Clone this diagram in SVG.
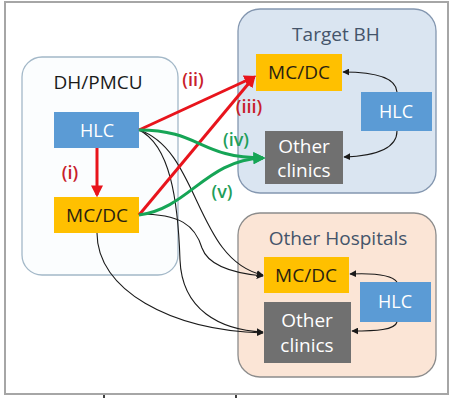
<svg xmlns="http://www.w3.org/2000/svg" width="450" height="398" viewBox="0 0 450 398">
  <style>
    text { font-family: "Open Sans", "Liberation Sans", sans-serif; text-anchor: middle; }
    .title { font-size: 19px; }
    .hlc rect { fill: #5b9bd5; }
    .hlc text { fill: #ffffff; font-size: 18px; }
    .mc rect { fill: #ffc000; }
    .mc text { fill: #2a1f10; font-size: 19px; }
    .oc rect { fill: #707070; }
    .oc text { fill: #ffffff; font-size: 19px; }
    .red { stroke: #e8141c; stroke-width: 3; fill: none; }
    .green { stroke: #16a556; stroke-width: 3; fill: none; }
    .thin { stroke: #1a1a1a; stroke-width: 1.1; fill: none; }
    .rl { fill: #c8202a; font-size: 18px; font-weight: 600; }
    .gl { fill: #1f9e5a; font-size: 18px; font-weight: 600; }
  </style>
  <defs>
    <marker id="arRed" viewBox="0 0 10 10" refX="8" refY="5" markerWidth="4" markerHeight="4" orient="auto">
      <path d="M0,0 L10,5 L0,10 Z" fill="#e8141c"/>
    </marker>
    <marker id="arGreen" viewBox="0 0 10 10" refX="8" refY="5" markerWidth="4" markerHeight="4" orient="auto">
      <path d="M0,0 L10,5 L0,10 Z" fill="#16a556"/>
    </marker>
    <marker id="arBlack" viewBox="0 0 10 10" refX="9" refY="5" markerWidth="7" markerHeight="7" orient="auto" markerUnits="userSpaceOnUse">
      <path d="M0,0 L10,5 L0,10 Z" fill="#1a1a1a"/>
    </marker>
  </defs>

  <!-- frame -->
  <rect x="0" y="0" width="450" height="398" fill="#ffffff"/>
  <rect x="5" y="2" width="443" height="392" fill="#ffffff" stroke="#a6a6a6" stroke-width="2"/>
  <line x1="104" y1="395" x2="104" y2="398" stroke="#000" stroke-width="1.5"/>
  <line x1="236" y1="395" x2="236" y2="398" stroke="#000" stroke-width="1.5"/>

  <!-- containers -->
  <g id="dh-pmcu">
    <rect x="22" y="57" width="156" height="218" rx="20" fill="#fbfdfe" stroke="#a3b8c8" stroke-width="1.3"/>
    <text class="title" x="98" y="89" fill="#1a1a1a">DH/PMCU</text>
  </g>
  <g id="target-bh">
    <rect x="238" y="9" width="198" height="184" rx="22" fill="#dae5f1" stroke="#8497b0" stroke-width="1.3"/>
    <text class="title" x="336" y="41" fill="#44546a">Target BH</text>
  </g>
  <g id="other-hospitals">
    <rect x="238" y="213" width="198" height="164" rx="22" fill="#fbe5d6" stroke="#8c8c8c" stroke-width="1.3"/>
    <text class="title" x="338" y="245" fill="#44546a">Other Hospitals</text>
  </g>

  <!-- nodes -->
  <g id="dh-hlc" class="hlc">
    <rect x="54" y="112" width="85" height="36"/>
    <text x="97" y="137">HLC</text>
  </g>
  <g id="dh-mcdc" class="mc">
    <rect x="54" y="197" width="85" height="36"/>
    <text x="97" y="222">MC/DC</text>
  </g>
  <g id="bh-mcdc" class="mc">
    <rect x="256" y="54" width="86" height="37"/>
    <text x="299" y="79">MC/DC</text>
  </g>
  <g id="bh-hlc" class="hlc">
    <rect x="361" y="92" width="71" height="39"/>
    <text x="396" y="118">HLC</text>
  </g>
  <g id="bh-other" class="oc">
    <rect x="265" y="131" width="78" height="53"/>
    <text x="304" y="153">Other</text>
    <text x="304" y="177">clinics</text>
  </g>
  <g id="oh-mcdc" class="mc">
    <rect x="264" y="257" width="85" height="36"/>
    <text x="306" y="282">MC/DC</text>
  </g>
  <g id="oh-hlc" class="hlc">
    <rect x="360" y="282" width="71" height="40"/>
    <text x="395" y="308">HLC</text>
  </g>
  <g id="oh-other" class="oc">
    <rect x="264" y="302" width="87" height="61"/>
    <text x="307" y="327">Other</text>
    <text x="307" y="352">clinics</text>
  </g>

  <!-- connectors -->
  <g id="connectors">
    <!-- within hospitals -->
    <path class="thin" d="M397,92 C396,76 372,72 343,72" marker-end="url(#arBlack)"/>
    <path class="thin" d="M397,131 C397,150 372,156 344,157" marker-end="url(#arBlack)"/>
    <path class="thin" d="M397,282 C392,275 372,273 350,274" marker-end="url(#arBlack)"/>
    <path class="thin" d="M397,322 C395,330 376,331 352,331" marker-end="url(#arBlack)"/>

    <!-- DH/PMCU to other hospitals -->
    <path class="thin" d="M139,130 C200,150 195,260 263,275" marker-end="url(#arBlack)"/>
    <path class="thin" d="M139,130 C170,145 178,200 180,260 C182,310 220,330 263,332" marker-end="url(#arBlack)"/>
    <path class="thin" d="M139,214 C180,214 195,225 202,248 C208,265 230,273 263,276" marker-end="url(#arBlack)"/>
    <path class="thin" d="M97,233 C97,290 170,330 263,333" marker-end="url(#arBlack)"/>

    <!-- (i) -->
    <path class="red" d="M97,148 L97,195" marker-end="url(#arRed)"/>
    <!-- (ii), (iii) -->
    <path class="red" d="M139,130 L254,77" marker-end="url(#arRed)"/>
    <path class="red" d="M139,215 L254,77" marker-end="url(#arRed)"/>
    <!-- (iv), (v) -->
    <path class="green" d="M139,130 C200,130 200,158 263,158" marker-end="url(#arGreen)"/>
    <path class="green" d="M139,215 C190,208 205,160 263,158" marker-end="url(#arGreen)"/>
  </g>

  <!-- flow labels -->
  <text class="rl" x="70" y="179">(i)</text>
  <text class="rl" x="193" y="86">(ii)</text>
  <text class="rl" x="249" y="113">(iii)</text>
  <text class="gl" x="236" y="146">(iv)</text>
  <text class="gl" x="222" y="198">(v)</text>
</svg>
